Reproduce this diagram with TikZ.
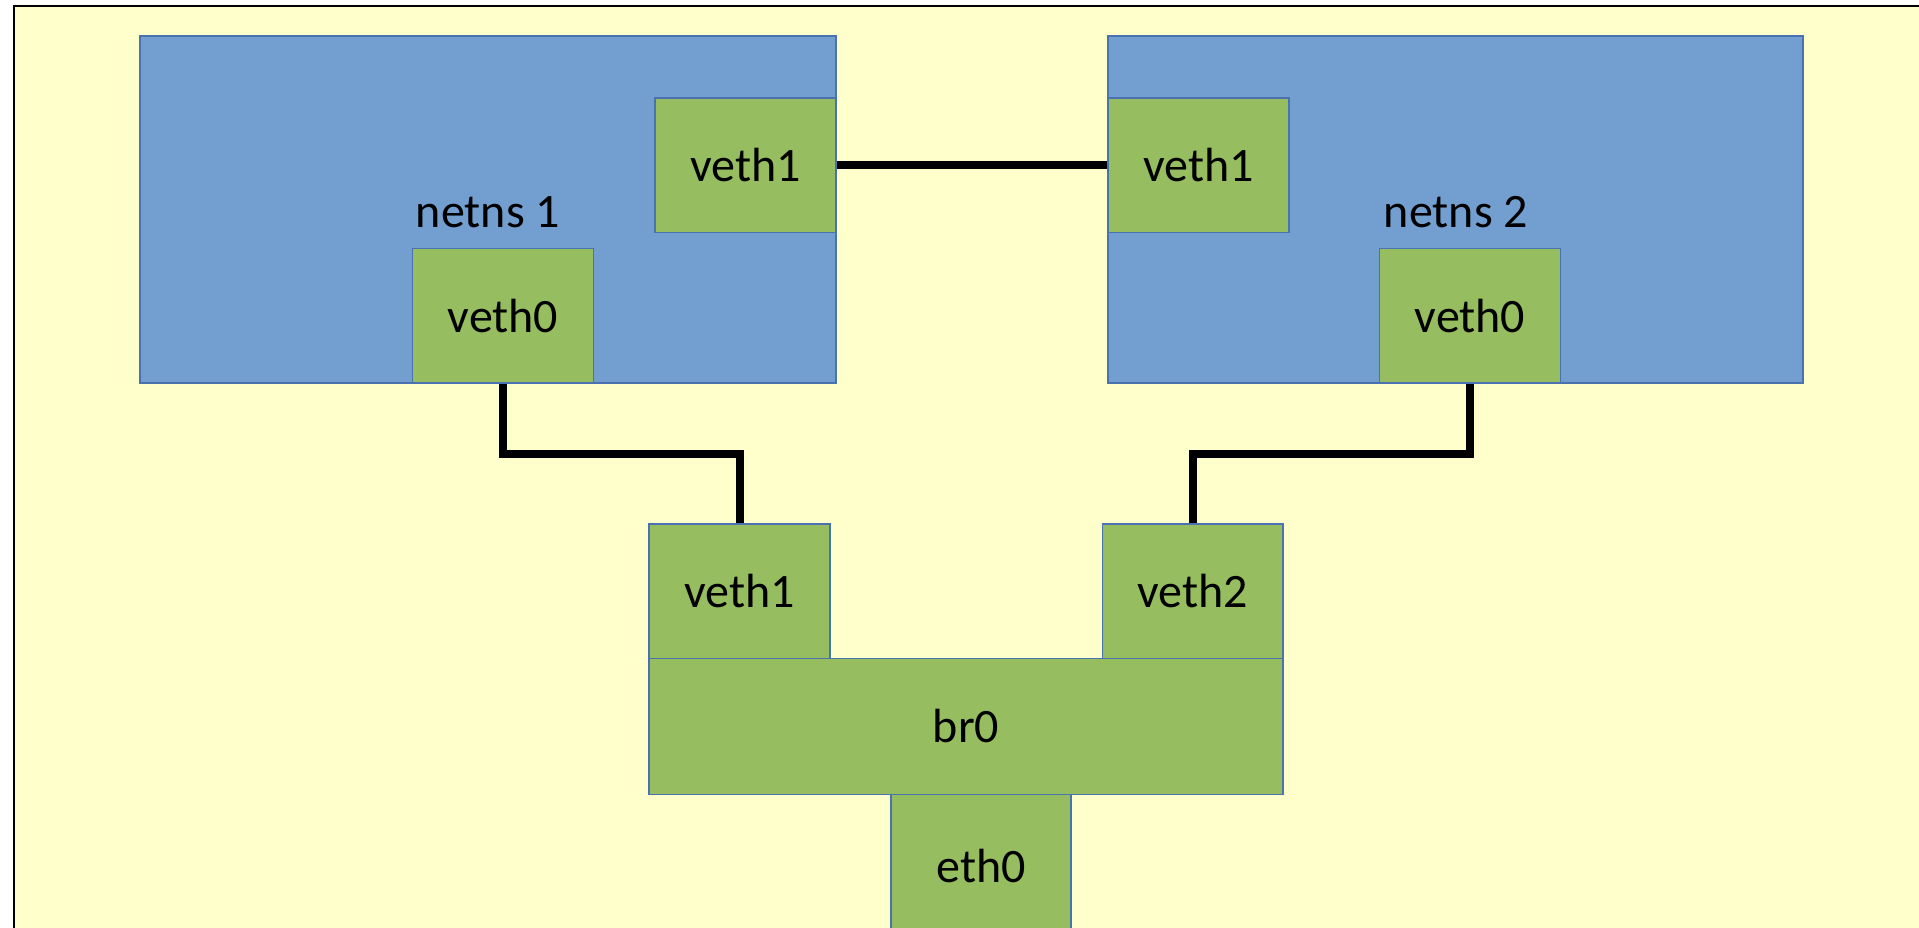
\documentclass[tikz,border=0pt]{standalone}
\usepackage{fontspec}
\setmainfont{Carlito}
\usetikzlibrary{calc}
\definecolor{paper}{HTML}{FFFFCC}
\definecolor{nsfill}{HTML}{729FCF}
\definecolor{nsline}{HTML}{4A72B0}
\definecolor{devfill}{HTML}{96BD5F}
\definecolor{devline}{HTML}{4A72B0}
\begin{document}
\begin{tikzpicture}[x=1pt,y=-1pt,
  nsbox/.style={rectangle, draw=nsline, fill=nsfill, line width=2pt, inner sep=0pt},
  devbox/.style={rectangle, draw=devline, fill=devfill, line width=1.5pt, inner sep=0pt,
    font=\fontsize{48}{58}\selectfont},
  nslabel/.style={anchor=base, inner sep=0pt, font=\fontsize{48}{58}\selectfont},
  wire/.style={line width=8pt, black, line join=miter, line cap=butt}]
  % canvas and outer frame
  \fill[white] (0,0) rectangle (1919,928);
  \useasboundingbox (0,0) rectangle (1919,928);
  \clip (0,0) rectangle (1919,928);
  \fill[paper] (14,6) rectangle (1940,950);
  \draw[line width=2pt, black] (14,950) -- (14,6) -- (1940,6);

  % network namespaces
  \node[nsbox, minimum width=696pt, minimum height=347pt] (ns1) at (488,209.5) {};
  \node[nsbox, minimum width=695pt, minimum height=347pt] (ns2) at (1455.5,209.5) {};
  \node[nslabel] (ns1lbl) at (488,227) {netns 1};
  \node[nslabel] (ns2lbl) at (1456,227) {netns 2};

  % interfaces inside the namespaces
  \node[devbox, minimum width=181pt, minimum height=134.5pt] (n1v1) at (745.5,165.25) {veth1};
  \node[devbox, minimum width=181pt, minimum height=134.5pt] (n1v0) at (503,315.75) {veth0};
  \node[devbox, minimum width=181pt, minimum height=134.5pt] (n2v1) at (1198.5,165.25) {veth1};
  \node[devbox, minimum width=181pt, minimum height=134.5pt] (n2v0) at (1470,315.75) {veth0};

  % bridge and its ports
  \node[devbox, minimum width=634pt, minimum height=135.8pt] (br0) at (966,726.4) {br0};
  \node[devbox, minimum width=181pt, minimum height=134.5pt] (bv1) at (739.5,591.25) {veth1};
  \node[devbox, minimum width=180.5pt, minimum height=134.5pt] (bv2) at (1192.75,591.25) {veth2};
  \node[devbox, minimum width=180pt, minimum height=143.7pt] (eth0) at (981,866.2) {eth0};

  % links
  \draw[wire] (n1v1.east) -- (n2v1.west);
  \draw[wire] (n1v0.south) |- ($(n1v0.south)!.5!(bv1.north)$) -| (bv1.north);
  \draw[wire] (n2v0.south) |- ($(n2v0.south)!.5!(bv2.north)$) -| (bv2.north);
\end{tikzpicture}
\end{document}
